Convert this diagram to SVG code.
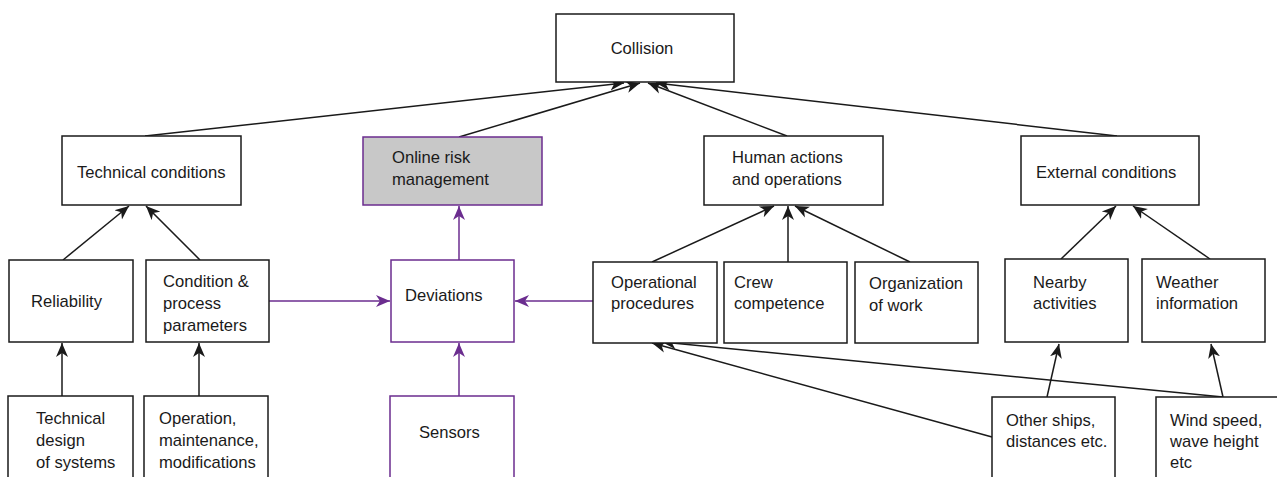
<svg xmlns="http://www.w3.org/2000/svg" width="1277" height="477" viewBox="0 0 1277 477">
<style>
.box{fill:#fff;stroke:#1a1a1a;stroke-width:1.5}
.pbox{fill:#fff;stroke:#6b2d8f;stroke-width:1.5}
.gbox{fill:#c8c8c8;stroke:#6b2d8f;stroke-width:1.5}
text{font-family:"Liberation Sans",Arial,sans-serif;font-size:16.6px;fill:#1a1a1a}
.k{stroke:#1a1a1a;stroke-width:1.5;fill:none}
.p{stroke:#6b2d8f;stroke-width:1.5;fill:none}
</style>
<defs>
<marker id="ak" markerUnits="userSpaceOnUse" markerWidth="16" markerHeight="14" refX="14" refY="6" orient="auto" viewBox="0 0 16 12">
<path d="M0,0 L14,6 L0,12 L4,6 z" fill="#1a1a1a"/>
</marker>
<marker id="ap" markerUnits="userSpaceOnUse" markerWidth="16" markerHeight="14" refX="14" refY="6" orient="auto" viewBox="0 0 16 12">
<path d="M0,0 L14,6 L0,12 L4,6 z" fill="#6b2d8f"/>
</marker>
</defs>
<g id="connectors">
<line class="k" x1="145" y1="136" x2="624" y2="83" marker-end="url(#ak)"/>
<line class="k" x1="459" y1="137" x2="640" y2="83" marker-end="url(#ak)"/>
<line class="k" x1="787" y1="136" x2="648" y2="83" marker-end="url(#ak)"/>
<line class="k" x1="1117" y1="136" x2="656" y2="83" marker-end="url(#ak)"/>
<line class="k" x1="63" y1="260" x2="129" y2="206" marker-end="url(#ak)"/>
<line class="k" x1="200" y1="260" x2="146" y2="206" marker-end="url(#ak)"/>
<line class="k" x1="62" y1="396" x2="62" y2="343" marker-end="url(#ak)"/>
<line class="k" x1="199" y1="396" x2="199" y2="343" marker-end="url(#ak)"/>
<line class="p" x1="459" y1="260" x2="459" y2="206" marker-end="url(#ap)"/>
<line class="p" x1="269" y1="301" x2="390" y2="301" marker-end="url(#ap)"/>
<line class="p" x1="593" y1="301" x2="515" y2="301" marker-end="url(#ap)"/>
<line class="p" x1="459" y1="396" x2="459" y2="343" marker-end="url(#ap)"/>
<line class="k" x1="652" y1="262" x2="774" y2="206" marker-end="url(#ak)"/>
<line class="k" x1="788" y1="262" x2="788" y2="206" marker-end="url(#ak)"/>
<line class="k" x1="910" y1="262" x2="795" y2="206" marker-end="url(#ak)"/>
<line class="k" x1="1061" y1="259" x2="1116" y2="206" marker-end="url(#ak)"/>
<line class="k" x1="1210" y1="259" x2="1133" y2="206" marker-end="url(#ak)"/>
<line class="k" x1="1047" y1="397" x2="1059" y2="344" marker-end="url(#ak)"/>
<line class="k" x1="1223" y1="397" x2="1211" y2="344" marker-end="url(#ak)"/>
<line class="k" x1="992" y1="437" x2="652" y2="343" marker-end="url(#ak)"/>
<line class="k" x1="1223" y1="397" x2="662" y2="342" marker-end="url(#ak)"/>
</g>
<g id="collision"><rect class="box" x="556" y="14" width="178" height="68"/><text x="642" y="54" text-anchor="middle">Collision</text></g>
<g id="technical-conditions"><rect class="box" x="62" y="136" width="179" height="69"/><text x="77" y="178">Technical conditions</text></g>
<g id="online-risk"><rect class="gbox" x="363" y="137" width="179" height="68"/><text x="392" y="163">Online risk</text><text x="392" y="185">management</text></g>
<g id="human-actions"><rect class="box" x="704" y="136" width="179" height="69"/><text x="732" y="163">Human actions</text><text x="732" y="185">and operations</text></g>
<g id="external-conditions"><rect class="box" x="1021" y="136" width="178" height="69"/><text x="1036" y="178">External conditions</text></g>
<g id="reliability"><rect class="box" x="9" y="260" width="124" height="82"/><text x="31" y="307">Reliability</text></g>
<g id="condition-process"><rect class="box" x="146" y="260" width="123" height="82"/><text x="163" y="287">Condition &amp;</text><text x="163" y="309">process</text><text x="163" y="331">parameters</text></g>
<g id="deviations"><rect class="pbox" x="391" y="260" width="123" height="82"/><text x="405" y="301">Deviations</text></g>
<g id="operational-procedures"><rect class="box" x="593" y="262" width="124" height="81"/><text x="611" y="288">Operational</text><text x="611" y="309">procedures</text></g>
<g id="crew-competence"><rect class="box" x="724" y="262" width="123" height="81"/><text x="734" y="288">Crew</text><text x="734" y="309">competence</text></g>
<g id="organization-of-work"><rect class="box" x="855" y="262" width="123" height="81"/><text x="869" y="289">Organization</text><text x="869" y="311">of work</text></g>
<g id="nearby-activities"><rect class="box" x="1005" y="259" width="123" height="83"/><text x="1033" y="288">Nearby</text><text x="1033" y="309">activities</text></g>
<g id="weather-information"><rect class="box" x="1142" y="259" width="123" height="83"/><text x="1156" y="288">Weather</text><text x="1156" y="309">information</text></g>
<g id="technical-design"><rect class="box" x="8" y="396" width="125" height="90"/><text x="36" y="424">Technical</text><text x="36" y="446">design</text><text x="36" y="468">of systems</text></g>
<g id="operation-maintenance"><rect class="box" x="144" y="396" width="124" height="90"/><text x="159" y="424">Operation,</text><text x="159" y="446">maintenance,</text><text x="159" y="468">modifications</text></g>
<g id="sensors"><rect class="pbox" x="390" y="396" width="124" height="90"/><text x="419" y="438">Sensors</text></g>
<g id="other-ships"><rect class="box" x="992" y="397" width="123" height="90"/><text x="1006" y="426">Other ships,</text><text x="1006" y="447">distances etc.</text></g>
<g id="wind-speed"><rect class="box" x="1156" y="397" width="130" height="90"/><text x="1170" y="426">Wind speed,</text><text x="1170" y="447">wave height</text><text x="1170" y="468">etc</text></g>
</svg>
